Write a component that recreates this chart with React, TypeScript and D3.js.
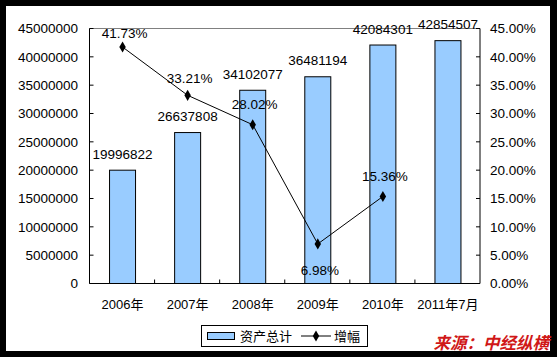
import React from "react";
import * as d3 from "d3";

const categories = ["2006年", "2007年", "2008年", "2009年", "2010年", "2011年7月"];
const assets = [19996822, 26637808, 34102077, 36481194, 42084301, 42854507];
const growth = [41.73, 33.21, 28.02, 6.98, 15.36];
const leftTicks = [0, 5000000, 10000000, 15000000, 20000000, 25000000, 30000000, 35000000, 40000000, 45000000];
const rightTicks = [0, 5, 10, 15, 20, 25, 30, 35, 40, 45];
const growthLabelDy = [-14, -17, -20, 26, -20];

const W = 557;
const H = 357;
const plot = { left: 89.5, right: 480, top: 28.5, bottom: 283.5 };
const FONT = "'Liberation Sans', Arial, 'Noto Sans CJK SC', sans-serif";
const BAR = "#99CCFF";

export default function App() {
  const x = d3.scaleBand<string>().domain(categories).range([plot.left, plot.right]).paddingInner(0).paddingOuter(0);
  const yL = d3.scaleLinear().domain([0, 45000000]).range([plot.bottom, plot.top]);
  const yR = d3.scaleLinear().domain([0, 45]).range([plot.bottom, plot.top]);
  const barW = 26;
  const cx = (c: string) => (x(c) as number) + x.bandwidth() / 2 + 0.5;

  const lineGen = d3
    .line<number>()
    .x((_, i) => cx(categories[i]))
    .y((d) => yR(d));
  const diamond = d3.symbol().type(d3.symbolDiamond).size(36)();

  return (
    <svg width={W} height={H} style={{ position: "absolute", left: 0, top: 0 }} fontFamily={FONT}>
      <rect x={0} y={0} width={W} height={H} fill="#000" />
      <rect x={6} y={6} width={544} height={345} fill="#fff" />

      {/* top border of plot area */}
      <line x1={plot.left} x2={plot.right} y1={plot.top} y2={plot.top} stroke="#808080" strokeWidth={1} />

      {/* bars */}
      {assets.map((v, i) => (
        <rect
          key={"b" + i}
          x={cx(categories[i]) - barW / 2}
          y={yL(v)}
          width={barW}
          height={plot.bottom - yL(v)}
          fill={BAR}
          stroke="#000"
          strokeWidth={1}
        />
      ))}

      {/* axes */}
      <line x1={plot.left} x2={plot.left} y1={plot.top} y2={plot.bottom} stroke="#000" />
      <line x1={plot.right} x2={plot.right} y1={plot.top} y2={plot.bottom} stroke="#000" />
      <line x1={plot.left} x2={plot.right} y1={plot.bottom} y2={plot.bottom} stroke="#000" />

      {leftTicks.map((t) => (
        <g key={"lt" + t}>
          <line x1={plot.left} x2={plot.left + 4} y1={yL(t)} y2={yL(t)} stroke="#000" />
          <text x={78} y={yL(t)} dy="0.35em" textAnchor="end" fontSize={13.5} fill="#000">
            {t}
          </text>
        </g>
      ))}
      {rightTicks.map((t) => (
        <g key={"rt" + t}>
          <line x1={plot.right - 4} x2={plot.right} y1={yR(t)} y2={yR(t)} stroke="#000" />
          <text x={490} y={yR(t)} dy="0.35em" textAnchor="start" fontSize={13.5} fill="#000">
            {t.toFixed(2) + "%"}
          </text>
        </g>
      ))}
      {categories.slice(1).map((c) => (
        <line key={"ct" + c} x1={x(c) as number} x2={x(c) as number} y1={plot.bottom} y2={plot.bottom - 4} stroke="#000" />
      ))}
      {categories.map((c) => (
        <text key={"cl" + c} x={cx(c)} y={304} dy="0.35em" textAnchor="middle" fontSize={13} fill="#000">
          {c}
        </text>
      ))}

      {/* bar labels */}
      {assets.map((v, i) => (
        <text key={"bl" + i} x={cx(categories[i])} y={yL(v) - 16} dy="0.35em" textAnchor="middle" fontSize={13.5} fill="#000">
          {v}
        </text>
      ))}

      {/* growth line */}
      <path d={lineGen(growth) || ""} fill="none" stroke="#000" strokeWidth={1} />
      {growth.map((g, i) => (
        <path key={"m" + i} d={diamond || ""} transform={`translate(${cx(categories[i])},${yR(g)})`} fill="#000" />
      ))}
      {growth.map((g, i) => (
        <text
          key={"gl" + i}
          x={cx(categories[i]) + 2}
          y={yR(g) + growthLabelDy[i]}
          dy="0.35em"
          textAnchor="middle"
          fontSize={13.5}
          fill="#000"
        >
          {g.toFixed(2) + "%"}
        </text>
      ))}

      {/* legend */}
      <rect x={201.5} y={325.5} width={166} height={21} fill="#fff" stroke="#000" />
      <rect x={207.5} y={332.5} width={27} height={7} fill={BAR} stroke="#000" />
      <text x={240} y={336} dy="0.35em" fontSize={13} fill="#000">资产总计</text>
      <line x1={301} x2={331} y1={336} y2={336} stroke="#000" />
      <path d={diamond || ""} transform="translate(316,336)" fill="#000" />
      <text x={334} y={336} dy="0.35em" fontSize={13} fill="#000">增幅</text>

      {/* source */}
      <text
        x={549}
        y={343}
        dy="0.35em"
        textAnchor="end"
        fontSize={16.5}
        fontWeight="bold"
        fontStyle="italic"
        fill="#D01818"
        fontFamily="'Noto Sans CJK SC', sans-serif"
      >
        来源：中经纵横
      </text>
    </svg>
  );
}
